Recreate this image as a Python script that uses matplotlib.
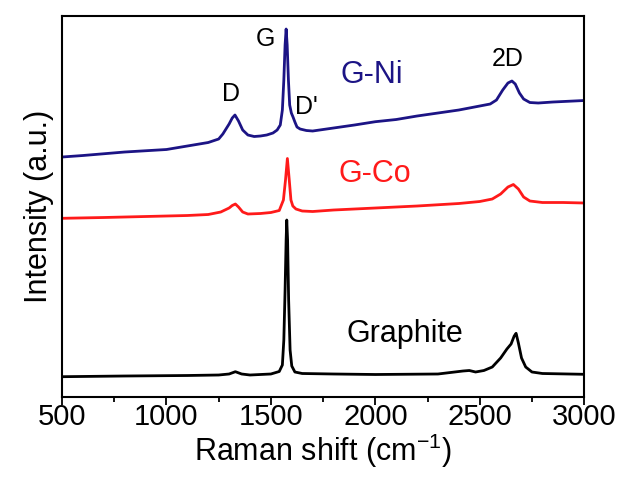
import numpy as np
import matplotlib
matplotlib.use("Agg")
import matplotlib.pyplot as plt
from matplotlib.ticker import MultipleLocator

plt.rcParams['font.family'] = ['Liberation Sans', 'DejaVu Sans']
plt.rcParams['mathtext.fontset'] = 'custom'
plt.rcParams['mathtext.rm'] = 'Liberation Sans'
plt.rcParams['mathtext.it'] = 'Liberation Sans'

# Raman spectra, intensity in arbitrary units (stacked offsets included)
ni_shift = [500, 600, 800, 1000, 1100, 1200, 1250, 1270, 1300, 1315, 1328, 1345,
            1365, 1390, 1420, 1450, 1480, 1510, 1530, 1545, 1555, 1562, 1568,
            1573, 1578, 1584, 1590, 1598, 1606, 1615, 1625, 1640, 1670, 1700,
            1800, 1900, 2000, 2100, 2200, 2300, 2400, 2450, 2500, 2550, 2580,
            2610, 2635, 2654, 2670, 2690, 2710, 2740, 2780, 2850, 2950, 3000]
ni_int = [239.5, 241, 244.5, 247, 250.5, 254, 257.5, 262.5, 272.5, 278.5, 281.5,
          275.5, 266.5, 261.5, 260, 260.5, 261.5, 263.5, 266.5, 271.5, 286.5,
          316.5, 351.5, 367.5, 351.5, 316.5, 291.5, 283.5, 279.5, 274.5, 269.5,
          267.5, 266, 265.5, 268.5, 271.5, 274.8, 277, 280.5, 283.5, 286.5,
          288.5, 290.5, 292.5, 296.5, 306.5, 313.5, 315.5, 312.5, 303.5, 297.5,
          294, 293.5, 294.5, 295.5, 296]

co_shift = [500, 700, 900, 1100, 1200, 1260, 1300, 1315, 1330, 1345, 1365, 1390,
            1450, 1500, 1540, 1560, 1570, 1579, 1588, 1596, 1605, 1620, 1650,
            1700, 1800, 2000, 2200, 2400, 2500, 2560, 2600, 2635, 2661, 2685,
            2710, 2740, 2800, 2900, 3000]
co_int = [178.2, 179, 180, 181, 182, 184.5, 188.5, 191, 192.5, 189.5, 184.5,
          182.5, 183, 184, 186, 196.5, 216.5, 238, 216.5, 196.5, 190.5, 187.5,
          185.5, 185, 186.5, 188.5, 190.5, 193, 195, 197.5, 202.5, 209.5, 212,
          207.5, 199.5, 195.5, 194, 194, 193.5]

gr_shift = [500, 800, 1100, 1250, 1300, 1330, 1360, 1400, 1500, 1540, 1555,
            1562, 1568, 1573, 1576, 1580, 1585, 1592, 1600, 1615, 1650, 1800,
            2000, 2300, 2420, 2450, 2480, 2520, 2560, 2600, 2630, 2650, 2665,
            2674, 2685, 2700, 2720, 2750, 2800, 3000]
gr_int = [19.8, 20.5, 21, 21.5, 22.5, 24.8, 22.5, 21.5, 22.5, 25, 31.5, 56.5,
          106.5, 156.5, 176.5, 156.5, 96.5, 46.5, 30.5, 24.5, 23, 22.5, 22,
          22.5, 25.5, 26, 24.5, 26, 29.5, 38.5, 47.5, 52.5, 60.5, 63.2, 53.5,
          38.5, 29.5, 24.5, 23, 22.2]

peak_names = ['D', 'G', "D'", '2D']
peak_pos = [1309, 1472, 1669, 2635]
peak_int = [303, 358, 290, 338]

fig = plt.figure(figsize=(6.22, 4.78), dpi=100)
ax = fig.add_axes([0.0997, 0.1705, 0.8395, 0.796])

ax.plot(gr_shift, gr_int, color='black', lw=2)
ax.plot(co_shift, co_int, color='#ff1a1a', lw=2)
ax.plot(ni_shift, ni_int, color='#1c1485', lw=2)

for name, x, y in zip(peak_names, peak_pos, peak_int):
    ax.text(x, y, name, fontsize=18, ha='center', va='center')
ax.text(1985, 321.5, 'G-Ni', fontsize=22, color='#1c1485', ha='center', va='center')
ax.text(1999, 223, 'G-Co', fontsize=22, color='#ff1a1a', ha='center', va='center')
ax.text(2143, 63, 'Graphite', fontsize=22, color='black', ha='center', va='center')

ax.set_xlim(500, 3000)
ax.set_ylim(0, 380.5)
ax.xaxis.set_major_locator(MultipleLocator(500))
ax.xaxis.set_minor_locator(MultipleLocator(250))
ax.set_yticks([])
ax.tick_params(axis='x', which='major', direction='out', length=6, width=1.3,
               labelsize=21, pad=-1)
ax.tick_params(axis='x', which='minor', direction='out', length=3.5, width=1.3)
for s in ax.spines.values():
    s.set_linewidth(1.5)

ax.set_xlabel('Raman shift (cm$^{-1}$)', fontsize=22, labelpad=0)
ax.set_ylabel('Intensity (a.u.)', fontsize=22, labelpad=6)

fig.savefig('out.png', dpi=100)
